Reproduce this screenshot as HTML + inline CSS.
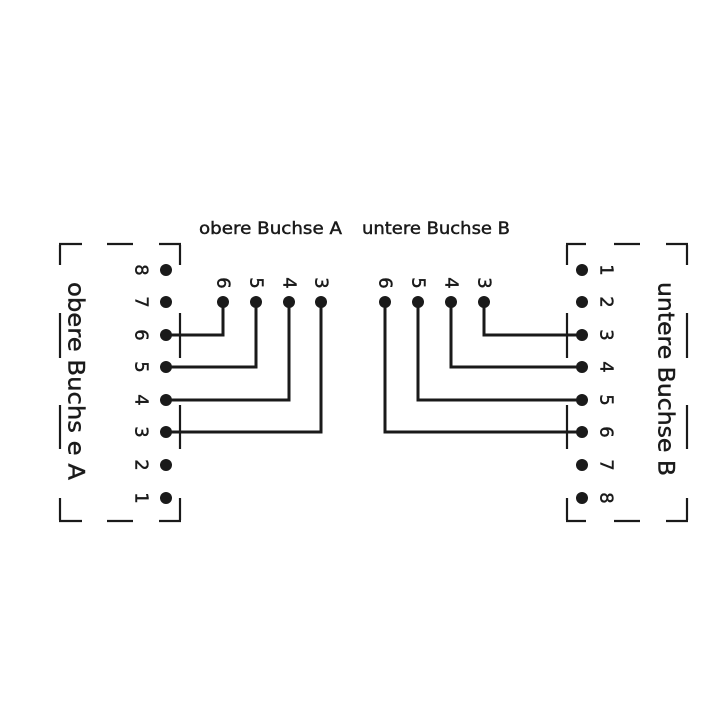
<!DOCTYPE html>
<html><head><meta charset="utf-8"><style>
html,body{margin:0;padding:0;background:#fff;}
svg{display:block;}
text{font-family:"DejaVu Sans","Liberation Sans",sans-serif;fill:#1a1a1a;stroke:#1a1a1a;stroke-width:0.45;}
</style></head><body>
<svg width="720" height="720" viewBox="0 0 720 720" xmlns="http://www.w3.org/2000/svg">
<g stroke="#1a1a1a" stroke-width="2.2" fill="none">
<path d="M60,245V265 M60,313V358 M60,405V449 M60,498V520"/>
<path d="M180,245V265 M180,313V358 M180,405V449 M180,498V520"/>
<path d="M59,244H82 M107,244H133 M159,244H181"/>
<path d="M59,521H82 M107,521H133 M159,521H181"/>
<path d="M567,245V265 M567,313V358 M567,405V449 M567,498V520"/>
<path d="M687,245V265 M687,313V358 M687,405V449 M687,498V520"/>
<path d="M566,244H586 M614,244H640 M666,244H688"/>
<path d="M566,521H586 M614,521H640 M666,521H688"/>
</g>
<g stroke="#1a1a1a" stroke-width="3" fill="none">
<path d="M223,302V335H166 M256,302V367H166 M289,302V400H166 M321,302V432H166"/>
<path d="M484,302V335H582 M451,302V367H582 M418,302V400H582 M385,302V432H582"/>
</g>
<g fill="#1a1a1a">
<circle cx="166" cy="270" r="6"/><circle cx="166" cy="302" r="6"/><circle cx="166" cy="335" r="6"/><circle cx="166" cy="367" r="6"/>
<circle cx="166" cy="400" r="6"/><circle cx="166" cy="432" r="6"/><circle cx="166" cy="465" r="6"/><circle cx="166" cy="498" r="6"/>
<circle cx="582" cy="270" r="6"/><circle cx="582" cy="302" r="6"/><circle cx="582" cy="335" r="6"/><circle cx="582" cy="367" r="6"/>
<circle cx="582" cy="400" r="6"/><circle cx="582" cy="432" r="6"/><circle cx="582" cy="465" r="6"/><circle cx="582" cy="498" r="6"/>
<circle cx="223" cy="302" r="6"/><circle cx="256" cy="302" r="6"/><circle cx="289" cy="302" r="6"/><circle cx="321" cy="302" r="6"/>
<circle cx="385" cy="302" r="6"/><circle cx="418" cy="302" r="6"/><circle cx="451" cy="302" r="6"/><circle cx="484" cy="302" r="6"/>
</g>
<text x="199" y="234" font-size="17" textLength="143" lengthAdjust="spacingAndGlyphs">obere Buchse A</text>
<text x="362" y="234" font-size="17" textLength="148" lengthAdjust="spacingAndGlyphs">untere Buchse B</text>
<g font-size="18" text-anchor="middle" dominant-baseline="central">
<text transform="translate(141,270) rotate(90)">8</text>
<text transform="translate(141,302) rotate(90)">7</text>
<text transform="translate(141,335) rotate(90)">6</text>
<text transform="translate(141,367) rotate(90)">5</text>
<text transform="translate(141,400) rotate(90)">4</text>
<text transform="translate(141,432) rotate(90)">3</text>
<text transform="translate(141,465) rotate(90)">2</text>
<text transform="translate(141,498) rotate(90)">1</text>
<text transform="translate(606,270) rotate(90)">1</text>
<text transform="translate(606,302) rotate(90)">2</text>
<text transform="translate(606,335) rotate(90)">3</text>
<text transform="translate(606,367) rotate(90)">4</text>
<text transform="translate(606,400) rotate(90)">5</text>
<text transform="translate(606,432) rotate(90)">6</text>
<text transform="translate(606,465) rotate(90)">7</text>
<text transform="translate(606,498) rotate(90)">8</text>
<text transform="translate(223,283) rotate(90)">6</text>
<text transform="translate(256,283) rotate(90)">5</text>
<text transform="translate(289,283) rotate(90)">4</text>
<text transform="translate(321,283) rotate(90)">3</text>
<text transform="translate(385,283) rotate(90)">6</text>
<text transform="translate(418,283) rotate(90)">5</text>
<text transform="translate(451,283) rotate(90)">4</text>
<text transform="translate(484,283) rotate(90)">3</text>
</g>
<g font-size="22" text-anchor="middle" dominant-baseline="central">
<text transform="translate(75,381) rotate(90)" textLength="198" lengthAdjust="spacingAndGlyphs">obere Buchs e A</text>
<text transform="translate(665,379) rotate(90)" textLength="194" lengthAdjust="spacingAndGlyphs">untere Buchse B</text>
</g>
</svg>
</body></html>
